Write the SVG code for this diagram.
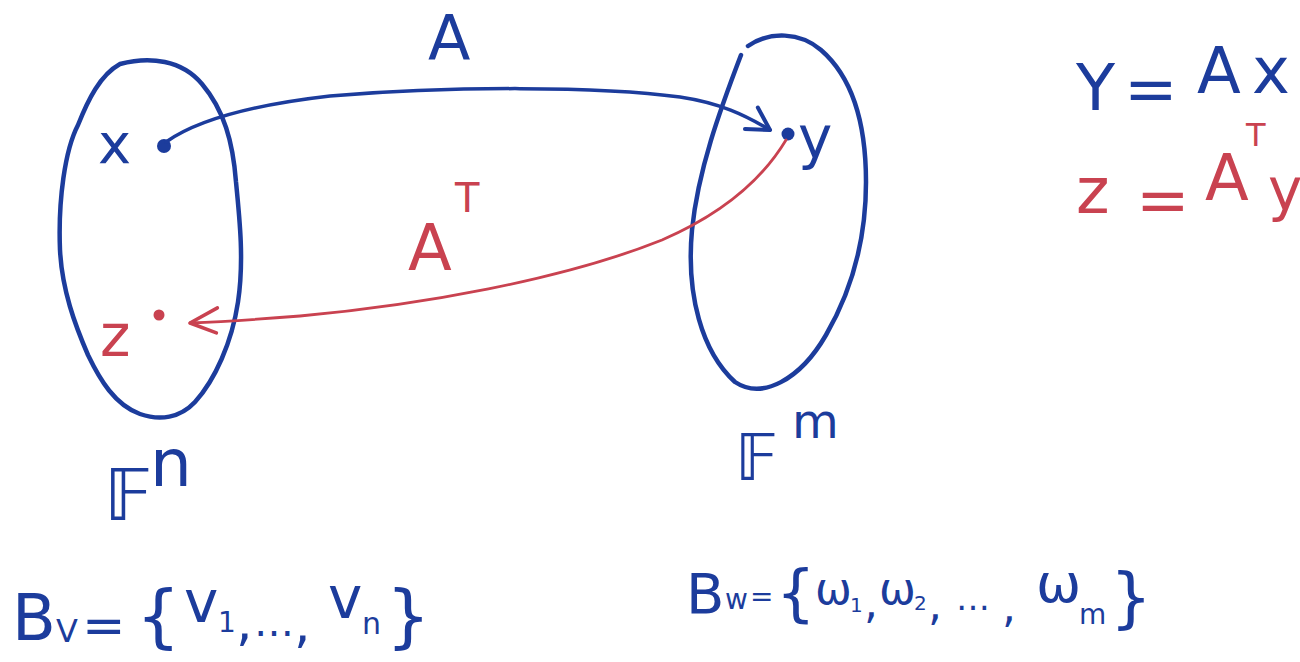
<svg xmlns="http://www.w3.org/2000/svg" width="1300" height="662" viewBox="0 0 1300 662">
<style>
.set{fill:none;stroke:#1c3c9c;stroke-width:4.5;stroke-linecap:round;stroke-linejoin:round}
.b{fill:#1c3c9c;font-family:"DejaVu Sans","Liberation Sans",sans-serif}
.r{fill:#c94250;font-family:"DejaVu Sans","Liberation Sans",sans-serif}
.ab{fill:none;stroke:#1c3c9c;stroke-width:3.5;stroke-linecap:round}
.ar{fill:none;stroke:#c94250;stroke-width:2.8;stroke-linecap:round}
</style>
<defs>
<marker id="hb" markerUnits="userSpaceOnUse" markerWidth="40" markerHeight="40" refX="0" refY="0" viewBox="-30 -20 40 40" orient="auto" overflow="visible">
<path d="M -22,-13 L 0,0 L -22,12" fill="none" stroke="#1c3c9c" stroke-width="4" stroke-linecap="round" stroke-linejoin="round"/>
</marker>
<marker id="hr" markerUnits="userSpaceOnUse" markerWidth="40" markerHeight="40" refX="0" refY="0" viewBox="-30 -20 40 40" orient="auto" overflow="visible">
<path d="M -26,-11 L 0,0 L -28,14" fill="none" stroke="#c94250" stroke-width="3.5" stroke-linecap="round" stroke-linejoin="round"/>
</marker>
</defs>
<rect width="1300" height="662" fill="#ffffff"/>

<g id="set-Fn">
<path class="set" d="M 120,64 C 150,56 182,60 202,84 C 224,110 233,142 236,182 C 240,222 244,262 238,302 C 232,342 215,380 195,402 C 180,418 160,421 140,414 C 115,405 100,380 88,355 C 75,325 62,290 60,250 C 58,200 65,150 78,125 C 88,100 100,75 120,64 Z"/>
<text class="b" font-size="72" x="104" y="520">𝔽</text>
<text class="b" font-size="66" x="150" y="486">n</text>
</g>

<g id="set-Fm">
<path class="set" d="M 741,55 C 720,110 698,170 692,230 C 686,295 702,352 735,382 C 762,400 800,380 826,335 C 855,285 866,232 866,182 C 866,122 851,76 821,50 C 800,32 770,31 748,46"/>
<text class="b" font-size="64" x="735" y="480">𝔽</text>
<text class="b" font-size="48" x="792" y="438">m</text>
</g>

<g id="node-x">
<circle cx="164" cy="146" r="7" fill="#1c3c9c"/>
<text class="b" font-size="56" x="98" y="163">x</text>
</g>

<g id="node-y">
<circle cx="788" cy="134" r="6.5" fill="#1c3c9c"/>
<text class="b" font-size="58" x="798" y="158">y</text>
</g>

<g id="node-z">
<circle cx="159" cy="315" r="5.5" fill="#c94250"/>
<text class="r" font-size="58" x="100" y="356">z</text>
</g>

<g id="connectors">
<path class="ab" d="M 166,142 C 200,118 260,104 330,96 C 450,86 600,86 680,97 C 720,103 745,115 770,130" marker-end="url(#hb)"/>
<path class="ar" d="M 786,140 C 762,180 722,214 662,240 C 562,280 420,305 300,316 C 250,320 215,322 190,323" marker-end="url(#hr)"/>
<text class="b" font-size="62" x="428" y="60">A</text>
<text class="r" font-size="64" x="408" y="270">A</text>
<text class="r" font-size="40" x="455" y="212">T</text>
</g>

<g id="equations">
<text class="b" font-size="64"><tspan x="1076" y="110">Y</tspan><tspan x="1124" y="111">=</tspan><tspan x="1197" y="93">A</tspan><tspan x="1252" y="93">x</tspan></text>
<text class="r" font-size="64"><tspan x="1076" y="213">z</tspan><tspan x="1136" y="222">=</tspan><tspan x="1205" y="200">A</tspan><tspan x="1246" y="146" font-size="32">T</tspan><tspan x="1268" y="210" font-size="58">y</tspan></text>
</g>

<g id="basis-V">
<text class="b" font-size="64"><tspan x="12" y="640">B</tspan><tspan x="56" y="642" font-size="32">V</tspan><tspan x="82" y="643" font-size="52">=</tspan><tspan x="136" y="640" font-size="70">{</tspan><tspan x="184" y="622" font-size="58">v</tspan><tspan x="218" y="632" font-size="28">1</tspan><tspan x="236" y="640" font-size="52">,</tspan><tspan x="254" y="636" font-size="40">…</tspan><tspan x="294" y="642" font-size="52">,</tspan><tspan x="328" y="618" font-size="58">v</tspan><tspan x="362" y="634" font-size="30">n</tspan><tspan x="386" y="640" font-size="70">}</tspan></text>
</g>

<g id="basis-W">
<text class="b" font-size="56"><tspan x="686" y="613">B</tspan><tspan x="725" y="609" font-size="28">w</tspan><tspan x="750" y="606" font-size="28">=</tspan><tspan x="776" y="614" font-size="62">{</tspan><tspan x="815" y="604" font-size="44">ω</tspan><tspan x="850" y="612" font-size="20">1</tspan><tspan x="864" y="618" font-size="44">,</tspan><tspan x="879" y="604" font-size="44">ω</tspan><tspan x="914" y="610" font-size="20">2</tspan><tspan x="928" y="620" font-size="44">,</tspan><tspan x="956" y="610" font-size="34">…</tspan><tspan x="1002" y="622" font-size="44">,</tspan><tspan x="1036" y="602" font-size="54">ω</tspan><tspan x="1079" y="624" font-size="28">m</tspan><tspan x="1110" y="620" font-size="66">}</tspan></text>
</g>
</svg>
